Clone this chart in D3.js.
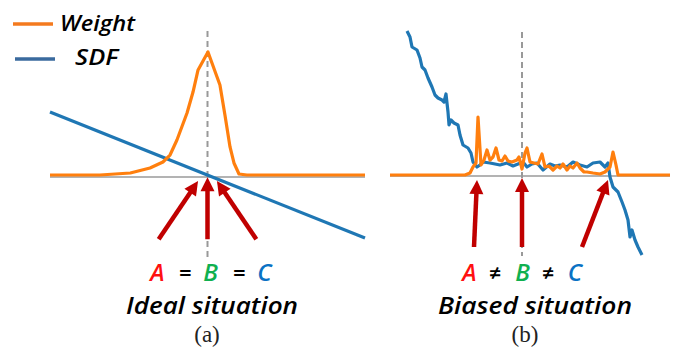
<!DOCTYPE html>
<html>
<head>
<meta charset="utf-8">
<script src="https://cdn.jsdelivr.net/npm/d3@7"></script>
<style>
  html, body { margin: 0; padding: 0; background: #fff; }
  svg { display: block; }
  .hand { font-family: "Open Sans", "Lato", sans-serif; font-style: italic; font-weight: 600; }
  .cap { font-family: "Liberation Serif", "DejaVu Serif", serif; }
</style>
</head>
<body>
<svg id="chart" width="686" height="359"></svg>
<script>
// ---------- data ----------
const seriesNames = ["Weight", "SDF"];
const seriesColors = ["#ff7f0e", "#1f77b4"];

// panel (a): ideal situation (t = ray position, 0 = surface)
const aWeight = [[-1,0.008],[-0.683,0.008],[-0.49,0.024],[-0.365,0.065],[-0.283,0.113],[-0.238,0.169],
  [-0.194,0.29],[-0.13,0.508],[-0.092,0.677],[-0.06,0.855],[0.003,1.0],[0.079,0.734],[0.111,0.49],
  [0.143,0.234],[0.168,0.105],[0.2,0.016],[0.25,0.008],[1,0.008]];
const aSdf = [[-1,0.516],[1,-0.5]];
const aArrows = [[-0.31,-0.51,-0.06,-0.04],[0,-0.51,0,-0.01],[0.31,-0.51,0.06,-0.04]];
const aLabels = ["A","=","B","=","C"];

// panel (b): biased situation
const bSdf = [[0.17,1.44],[0.20,1.38],[0.22,1.28],[0.27,1.25],[0.30,1.17],[0.32,1.08],[0.35,1.05],[0.38,0.97],
  [0.42,0.88],[0.45,0.80],[0.48,0.77],[0.52,0.75],[0.54,0.73],[0.56,0.81],[0.58,0.63],[0.59,0.50],[0.61,0.55],
  [0.64,0.52],[0.68,0.50],[0.70,0.40],[0.73,0.30],[0.78,0.27],[0.81,0.22],[0.83,0.13],[0.87,0.08],[0.90,0.10],
  [0.93,0.13],[1.00,0.12],[1.10,0.10],[1.17,0.12],[1.23,0.09],[1.28,0.11],[1.33,0.13],[1.37,0.08],[1.42,0.11],
  [1.47,0.12],[1.53,0.05],[1.60,0.11],[1.65,0.09],[1.70,0.10],[1.77,0.08],[1.83,0.13],[1.90,0.10],[1.97,0.08],
  [2.03,0.12],[2.10,0.13],[2.15,0.08],[2.18,0.12],[2.20,-0.02],[2.23,-0.12],[2.28,-0.17],[2.32,-0.27],
  [2.35,-0.35],[2.38,-0.45],[2.40,-0.62],[2.42,-0.55],[2.45,-0.65],[2.48,-0.72],[2.52,-0.80]];
const bWeight = [[0,0],[0.75,0],[0.80,0.02],[0.83,0.08],[0.86,0.12],[0.88,0.58],[0.91,0.10],[0.94,0.15],
  [0.97,0.25],[1.00,0.15],[1.03,0.18],[1.06,0.27],[1.09,0.15],[1.12,0.14],[1.15,0.19],[1.18,0.14],[1.22,0.13],
  [1.27,0.15],[1.29,0.18],[1.32,0.06],[1.35,0.22],[1.37,0.27],[1.40,0.13],[1.44,0.12],[1.48,0.11],[1.52,0.21],
  [1.55,0.08],[1.59,0.09],[1.63,0.05],[1.67,0.09],[1.70,0.07],[1.73,0.11],[1.77,0.05],[1.80,0.09],[1.83,0.07],
  [1.87,0.12],[1.90,0.07],[1.94,0.03],[1.97,0.03],[2.03,0.02],[2.10,0.01],[2.15,0.03],[2.20,0.08],[2.23,0.23],
  [2.26,0.10],[2.28,0],[2.80,0]];
const bArrows = [[0.84,-0.72,0.87,-0.05],[1.32,-0.72,1.32,-0.03],[1.92,-0.72,2.18,-0.05]];
const bLabels = ["A","\u2260","B","\u2260","C"];

const labelColors = ["#ff1010","#000","#10b050","#000","#0a72c4"];
const titles = ["Ideal situation", "Biased situation"];
const captions = ["(a)", "(b)"];

// ---------- drawing ----------
const svg = d3.select("#chart");
const arrowColor = "#c00000";

function drawArrow(g, x1, y1, x2, y2) {
  const dx = x2 - x1, dy = y2 - y1, L = Math.hypot(dx, dy);
  const ux = dx / L, uy = dy / L, px = -uy, py = ux;
  const hl = 14, hw = 7;
  g.append("line").attr("x1", x1).attr("y1", y1)
    .attr("x2", x2 - ux * (hl - 2)).attr("y2", y2 - uy * (hl - 2))
    .attr("stroke", arrowColor).attr("stroke-width", 4.5);
  const bx = x2 - ux * hl, by = y2 - uy * hl;
  g.append("polygon")
    .attr("points", [[x2, y2], [bx + px * hw, by + py * hw], [bx - px * hw, by - py * hw]].map(p => p.join(",")).join(" "))
    .attr("fill", arrowColor);
}

function panel(cfg) {
  const g = svg.append("g");
  const x = d3.scaleLinear().domain(cfg.xd).range(cfg.xr);
  const y = d3.scaleLinear().domain([0, 1]).range(cfg.yr);
  const line = d3.line().x(d => x(d[0])).y(d => y(d[1]));
  // axis baseline
  g.append("line").attr("x1", x(cfg.xd[0])).attr("x2", x(cfg.xd[1]))
    .attr("y1", y(0) + 1).attr("y2", y(0) + 1)
    .attr("stroke", "#9a9a9a").attr("stroke-width", 1.6);
  // dashed guide
  g.append("line").attr("x1", x(cfg.guide)).attr("x2", x(cfg.guide))
    .attr("y1", y(cfg.guideTop)).attr("y2", y(cfg.guideBottom))
    .attr("stroke", "#999").attr("stroke-width", 2).attr("stroke-dasharray", "6,4");
  // SDF
  g.append("path").datum(cfg.sdf).attr("d", line).attr("fill", "none")
    .attr("stroke", seriesColors[1]).attr("stroke-width", 3.2).attr("stroke-linejoin", "round");
  // Weight
  g.append("path").datum(cfg.weight).attr("d", line).attr("fill", "none")
    .attr("stroke", seriesColors[0]).attr("stroke-width", 3.2).attr("stroke-linejoin", "round");
  // arrows
  cfg.arrows.forEach(a => drawArrow(g, x(a[0]), y(a[1]), x(a[2]), y(a[3])));
  // labels A = B = C
  cfg.labels.forEach((t, i) => {
    g.append("text").attr("class", "hand").attr("x", cfg.labelX[i]).attr("y", 281)
      .attr("text-anchor", "middle").attr("font-size", i % 2 ? 22 : 24)
      .attr("font-weight", i % 2 ? 700 : 600)
      .attr("fill", labelColors[i]).text(t);
  });
  g.append("text").attr("class", "hand").attr("x", cfg.titleX).attr("y", 314)
    .attr("text-anchor", "middle").attr("font-size", 24)
    .attr("textLength", cfg.titleW).attr("lengthAdjust", "spacingAndGlyphs")
    .attr("fill", "#000").text(cfg.title);
  g.append("text").attr("class", "cap").attr("x", cfg.capX).attr("y", 342)
    .attr("text-anchor", "middle").attr("font-size", 23).attr("fill", "#222").text(cfg.caption);
}

panel({ xd: [-1, 1], xr: [50, 365], yr: [176, 52], guide: 0, guideTop: 1.17, guideBottom: -0.66,
  sdf: aSdf, weight: aWeight, arrows: aArrows, labels: aLabels,
  labelX: [157.5, 185, 210.5, 239, 264.5], title: titles[0], titleX: 212, titleW: 172, capX: 207, caption: captions[0] });
panel({ xd: [0, 2.8], xr: [390, 670], yr: [175, 75], guide: 1.32, guideTop: 1.43, guideBottom: -0.81,
  sdf: bSdf, weight: bWeight, arrows: bArrows, labels: bLabels,
  labelX: [469.5, 495, 522.5, 548, 575], title: titles[1], titleX: 535, titleW: 194, capX: 525, caption: captions[1] });

// legend
const legendColors = ["#f47a1e", "#3a6a9e"];
const leg = svg.append("g");
[[13, 53, 24, 60, 31, 75], [15, 55, 59, 75, 65, 43]].forEach((p, i) => {
  leg.append("line").attr("x1", p[0]).attr("x2", p[1]).attr("y1", p[2]).attr("y2", p[2])
    .attr("stroke", legendColors[i]).attr("stroke-width", 3.5);
  leg.append("text").attr("class", "hand").attr("x", p[3]).attr("y", p[4])
    .attr("font-size", 22).attr("font-weight", 500).attr("textLength", p[5]).attr("lengthAdjust", "spacingAndGlyphs")
    .attr("fill", "#000").text(seriesNames[i]);
});
</script>
</body>
</html>
